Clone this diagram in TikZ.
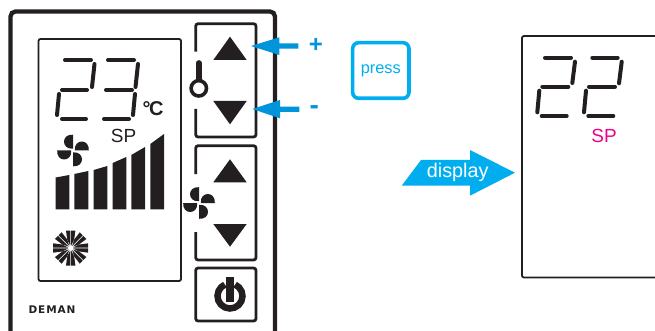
\documentclass[tikz,border=0pt]{standalone}
\usepackage{fontspec}
\setmainfont{Liberation Sans}
\newfontfamily\logofont{DejaVu Sans}
\definecolor{ink}{HTML}{231F20}
\definecolor{cyanb}{HTML}{00AEEF}
\definecolor{blueb}{HTML}{0095DA}
\definecolor{pinkb}{HTML}{EC008C}
\tikzset{
  frame/.style={draw=ink,line width=4.3pt,rounded corners=5pt},
  lcd/.style={draw=ink,line width=1.8pt,rounded corners=2pt},
  btn/.style={draw=ink,line width=2.8pt,rounded corners=2.5pt},
  seg/.style={draw=ink,line width=4pt,line cap=round},
  tri/.style={fill=ink},
  lab/.style={inner sep=0pt,outer sep=0pt},
}
\newcommand{\fanicon}[2]{% x y
  \foreach \a in {0,90,180,270}{
    \fill[ink,shift={(#1,#2)},rotate=\a]
      (0,-1.8) .. controls (-12,-0.8) and (-12,-16.8) .. (0,-15.8) -- cycle;
  }
}
\begin{document}
\begin{tikzpicture}[x=1pt,y=-1pt]
\useasboundingbox (0,0) rectangle (655,331);
% housing
\draw[frame] (10.5,340) -- (10.5,11.5) -- (275,11.5) -- (275,340);
% main LCD
\draw[lcd] (38.5,39) rectangle (181,281);
% digit 2
\draw[seg] (65,60)--(91,60);
\draw[seg] (94.5,64)--(92,87);
\draw[seg] (62,90)--(87,90);
\draw[seg] (59,94)--(57,115);
\draw[seg] (62,119)--(86,119);
% digit 3
\draw[seg] (108,60)--(134,60);
\draw[seg] (138,64)--(135.5,87);
\draw[seg] (106,90)--(132,90);
\draw[seg] (135,94)--(133,115);
\draw[seg] (104,119)--(129,119);
\node[lab,font=\bfseries\fontsize{20}{20}\selectfont,ink] (unit) at (153,108.5) {°\kern-1.5pt C};
\node[lab,font=\fontsize{19}{19}\selectfont,ink] (sp) at (123.5,135.5) {SP};
\fanicon{73}{150.5}
% bars
\fill[ink] (55.7,209.3)--(55.7,177.5)--(69.3,175)--(69.3,209.3)--cycle;
\fill[ink] (74.3,209.3)--(74.3,174)--(88.3,171)--(88.3,209.3)--cycle;
\fill[ink] (93.7,209.3)--(93.7,170)--(107.3,166)--(107.3,209.3)--cycle;
\fill[ink] (112.7,209.3)--(112.7,163)--(126.3,157)--(126.3,209.3)--cycle;
\fill[ink] (131.3,209.3)--(131.3,155)--(145,147)--(145,209.3)--cycle;
\fill[ink] (150.3,209.3)--(150.3,144)--(164,134)--(164,209.3)--cycle;
% snowflake
\foreach \a in {0,45,...,315}{
  \fill[ink,shift={(70.7,248)},rotate=\a] (2.5,0.45)--(17.5,0.45)--(17.5,4.7)--(8.3,3.44)--cycle;
  \fill[ink,shift={(70.7,248)},rotate=\a] (2.5,-0.45)--(17.5,-0.45)--(17.5,-4.7)--(8.3,-3.44)--cycle;
}
\node[lab,font=\logofont\bfseries\fontsize{10.5}{10.5}\selectfont\addfontfeature{LetterSpace=8},ink] (logo) at (52,309.3) {DEMAN};
% buttons
\draw[btn] (195.7,51.7)--(195.7,23.7)--(256,23.7)--(256,137)--(195.7,137)--(195.7,109);
\draw[btn] (195.7,174)--(195.7,145.7)--(256,145.7)--(256,260)--(195.7,260)--(195.7,232);
\draw[btn] (195.7,268)rectangle(256,321);
\fill[tri] (230,36.7)--(213.3,60)--(246.7,60)--cycle;
\fill[tri] (230,124.3)--(213.3,101)--(246.7,101)--cycle;
\fill[tri] (230,159.3)--(213.3,182.3)--(246.7,182.3)--cycle;
\fill[tri] (230,246.7)--(213.3,224)--(246.7,224)--cycle;
% thermometer
\draw[ink,line width=5.7pt,line cap=round] (198.8,63)--(198.8,80);
\draw[ink,line width=3.6pt,fill=white] (198.8,88.3) circle (7.7);
\fanicon{199}{203}
% power
\draw[ink,line width=6.5pt] (230,296) ++(-66:12.5) arc[start angle=-66,end angle=246,radius=12.5];
\fill[ink] (226.3,277.3) rectangle (233.5,301.7);
% blue arrows
\fill[blueb] (251,46)--(279.3,37.3)--(279.3,43.3)--(298.3,43.3)--(298.3,48.7)--(279.3,48.7)--(279.3,55)--cycle;
\fill[blueb] (252.3,109)--(280,100)--(280,106.7)--(299.3,106.7)--(299.3,112)--(280,112)--(280,118.3)--cycle;
\node[lab,font=\bfseries\fontsize{24}{24}\selectfont,blueb] (plus) at (316,45) {+};
\node[lab,font=\bfseries\fontsize{28}{28}\selectfont,blueb] (minus) at (314.3,109.6) {-};
% press
\node[draw=cyanb,line width=3.6pt,rounded corners=6pt,minimum width=56.3pt,minimum height=55.6pt,inner sep=0pt,font=\fontsize{16.3}{16.3}\selectfont,text=cyanb] (press) at (380.8,70.5) {\raisebox{-1pt}{press}};
% display arrow
\fill[cyanb] (401.7,185.7)--(421,160)--(470,160)--(470,150)--(515,172.7)--(470,195.7)--(470,185.7)--cycle;
\node[lab,font=\fontsize{19.8}{19.8}\selectfont,white] (disp) at (457.7,172.3) {display};
% second LCD
\draw[lcd] (670,36)--(522,36)--(522,277.5)--(670,277.5);
\draw[seg] (545,57.7)--(571,57.7);
\draw[seg] (575,61.7)--(572.3,83);
\draw[seg] (542.3,86.7)--(568.3,86.7);
\draw[seg] (539.3,90.7)--(537.3,112.3);
\draw[seg] (541.7,116)--(566.7,116);
\draw[seg] (592.3,57.7)--(617.7,57.7);
\draw[seg] (621.7,61.7)--(619,83.3);
\draw[seg] (589,86.7)--(615,86.7);
\draw[seg] (586,90.7)--(584,112.3);
\draw[seg] (588.3,116)--(613.3,116);
\node[lab,font=\fontsize{19}{19}\selectfont,pinkb] (sp2) at (604,136) {SP};
\end{tikzpicture}
\end{document}
